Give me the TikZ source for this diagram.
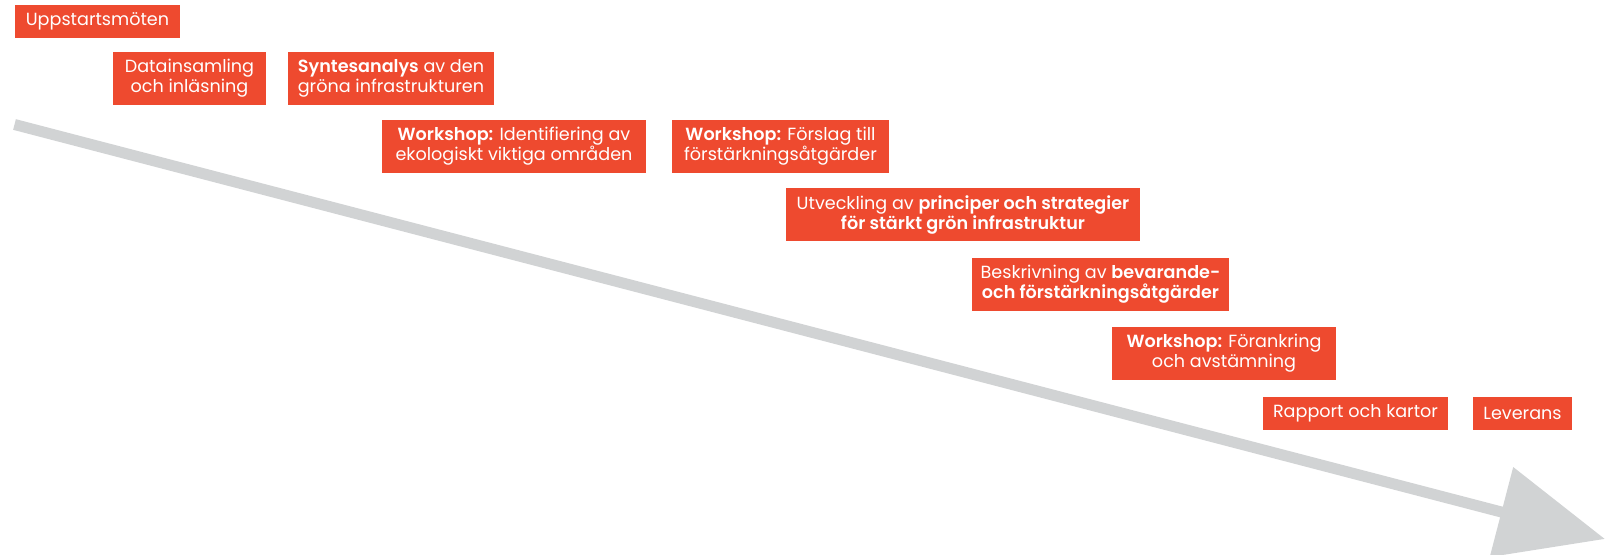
\documentclass[tikz,border=0pt]{standalone}
\usepackage{fontspec}
\setmainfont{Poppins}[BoldFont={Poppins SemiBold}]
\usetikzlibrary{arrows.meta}
\definecolor{fas}{HTML}{EE4A2F}
\definecolor{pil}{HTML}{D1D3D4}
\def\fet#1{\textbf{#1}}

\begin{document}
\begin{tikzpicture}[x=1pt,y=-1pt,
  fas/.style={fill=fas,text=white,align=center,inner sep=0pt,
    font=\fontsize{17.6}{20}\selectfont}]
\useasboundingbox (0,0) rectangle (1613,554);
% tidslinjen
\coordinate (start) at (14.5,124.5);
\coordinate (slut) at (1605,539);
\draw[pil,line width=11pt,-{Triangle[length=107pt,width=90pt]}] (start) -- (slut);
% faserna
\node[fas,minimum width=165,minimum height=33] (uppstart) at (97.5,21.5) {Uppstartsmöten};
\node[fas,minimum width=153,minimum height=53] (data) at (189.5,78.5) {Datainsamling\\och inläsning};
\node[fas,minimum width=206,minimum height=53] (syntes) at (391,78.5) {\fet{Syntesanalys} av den\\gröna infrastrukturen};
\node[fas,minimum width=264,minimum height=53] (ws1) at (514,146.5) {\fet{Workshop:} Identifiering av\\ekologiskt viktiga områden};
\node[fas,minimum width=217,minimum height=53] (ws2) at (780.5,146.5) {\fet{Workshop:} Förslag till\\förstärkningsåtgärder};
\node[fas,minimum width=354,minimum height=53] (utv) at (963,214.5) {Utveckling av \fet{principer och strategier}\\\fet{för stärkt grön infrastruktur}};
\node[fas,minimum width=257,minimum height=53] (beskr) at (1100.5,284.5) {Beskrivning av \fet{bevarande-}\\\fet{och förstärkningsåtgärder}};
\node[fas,minimum width=224,minimum height=53] (ws3) at (1224,353.5) {\fet{Workshop:} Förankring\\och avstämning};
\node[fas,minimum width=185,minimum height=33] (rapport) at (1355.5,413.5) {Rapport och kartor};
\node[fas,minimum width=99,minimum height=33] (lev) at (1522.5,413.5) {Leverans};
\end{tikzpicture}
\end{document}
